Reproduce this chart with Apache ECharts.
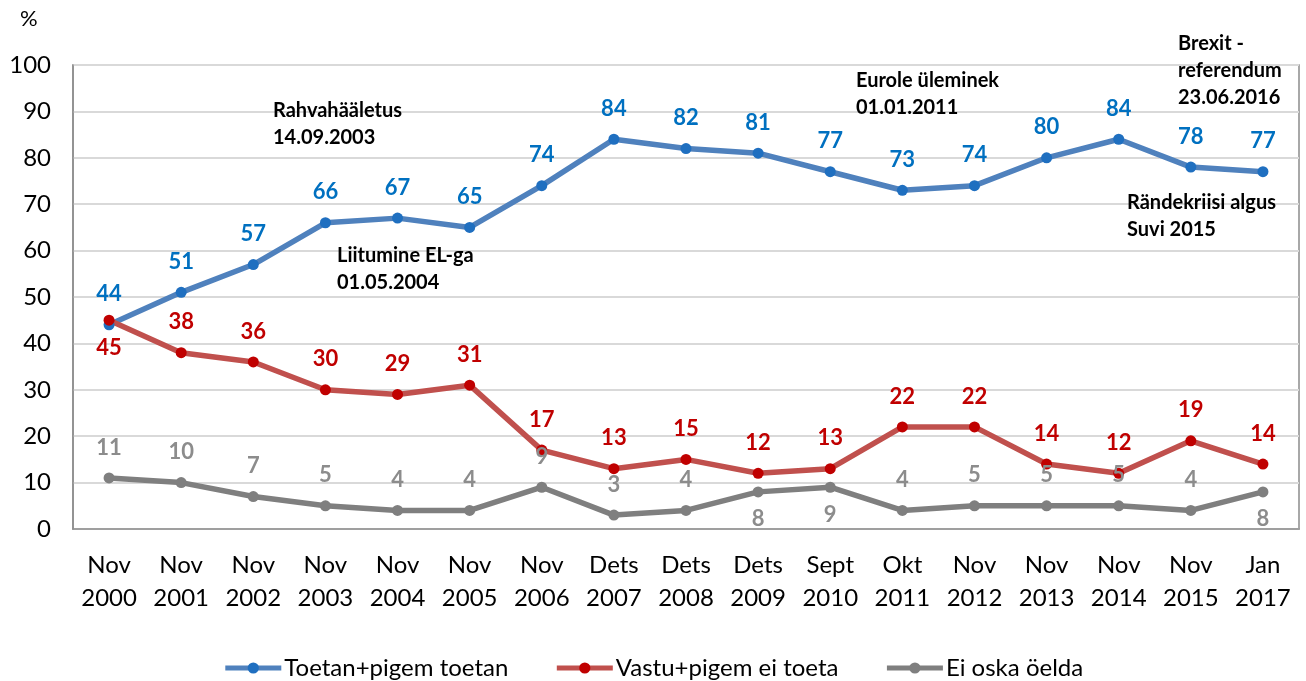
<!DOCTYPE html>
<html><head><meta charset="utf-8">
<script src="https://cdn.jsdelivr.net/npm/echarts@6/dist/echarts.min.js"></script>
<style>html,body{margin:0;padding:0;background:#fff}#c{width:1306px;height:681px}</style>
</head><body><div id="c"></div>
<script>
const categories = ["Nov\n2000","Nov\n2001","Nov\n2002","Nov\n2003","Nov\n2004","Nov\n2005","Nov\n2006","Dets\n2007","Dets\n2008","Dets\n2009","Sept\n2010","Okt\n2011","Nov\n2012","Nov\n2013","Nov\n2014","Nov\n2015","Jan\n2017"];
const support = [44,51,57,66,67,65,74,84,82,81,77,73,74,80,84,78,77];
const against = [45,38,36,30,29,31,17,13,15,12,13,22,22,14,12,19,14];
const dontKnow = [11,10,7,5,4,4,9,3,4,8,9,4,5,5,5,4,8];
const seriesNames = ["Toetan+pigem toetan","Vastu+pigem ei toeta","Ei oska öelda"];
const yTicks = [0,10,20,30,40,50,60,70,80,90,100];
// label placement: indices whose labels go below
const againstBelow = [0];
const dontKnowBelow = [9,10,16];
const annotations = [
  {text:"Rahvahääletus\n14.09.2003", left:273, top:97},
  {text:"Liitumine EL-ga\n01.05.2004", left:337, top:242},
  {text:"Eurole üleminek\n01.01.2011", left:856, top:67},
  {text:"Brexit -\nreferendum\n23.06.2016", left:1178, top:30},
  {text:"Rändekriisi algus\nSuvi 2015", left:1127, top:189}
];

const FONT = "Lato";
function mkData(vals, below){
  return vals.map((v,i)=>({
    value:v,
    label: below.indexOf(i)>=0 ? {position:'bottom', distance:11} : {}
  }));
}
function mkSeries(name, vals, below, lineColor, markColor, labelColor){
  return {
    name, type:'line', data: mkData(vals, below),
    symbol:'circle', symbolSize:11,
    lineStyle:{color:lineColor, width:5.5},
    itemStyle:{color:markColor, borderWidth:0},
    label:{show:true, position:'top', distance:14, color:labelColor,
      fontFamily:FONT, fontWeight:'bold', fontSize:22},
    emphasis:{disabled:true},
    z: 2
  };
}
const chart = echarts.init(document.getElementById('c'), null, {renderer:'canvas'});
chart.setOption({
  animation:false,
  grid:{left:73, right:7, top:65, bottom:152, show:true, borderColor:'#8C8C8C', borderWidth:1.5},
  xAxis:{type:'category', data:categories, boundaryGap:true,
    axisLine:{lineStyle:{color:'#8C8C8C', width:1.5}},
    axisTick:{show:false},
    axisLabel:{fontFamily:FONT, fontSize:24, color:'#000', margin:20, lineHeight:33, interval:0}},
  yAxis:{type:'value', min:yTicks[0], max:yTicks[yTicks.length-1], interval:10,
    axisLine:{show:true, lineStyle:{color:'#8C8C8C', width:1.5}},
    axisTick:{show:false},
    splitLine:{lineStyle:{color:'#D9D9D9', width:2}},
    axisLabel:{fontFamily:FONT, fontSize:24, color:'#000', margin:22}},
  legend:{top:651, left:'center', itemWidth:56, itemHeight:14, itemGap:46,
    lineStyle:{width:5},
    textStyle:{fontFamily:FONT, fontSize:24, color:'#000', padding:[0,0,0,-2]},
    data:seriesNames},
  series:[
    mkSeries(seriesNames[0], support, [], '#4F81BD', '#1F6FC0', '#0070C0'),
    mkSeries(seriesNames[1], against, againstBelow, '#C0504D', '#C00000', '#C00000'),
    mkSeries(seriesNames[2], dontKnow, dontKnowBelow, '#7F7F7F', '#7F7F7F', '#8C8C8C')
  ],
  graphic: [
    {type:'text', left:20, top:8, z:100, style:{text:'%', font:'22px '+FONT, fill:'#000'}}
  ].concat(annotations.map(a=>({type:'text', left:a.left, top:a.top, z:100,
    style:{text:a.text, font:'bold 20px '+FONT, fill:'#000', lineHeight:27}})))
});
</script></body></html>
